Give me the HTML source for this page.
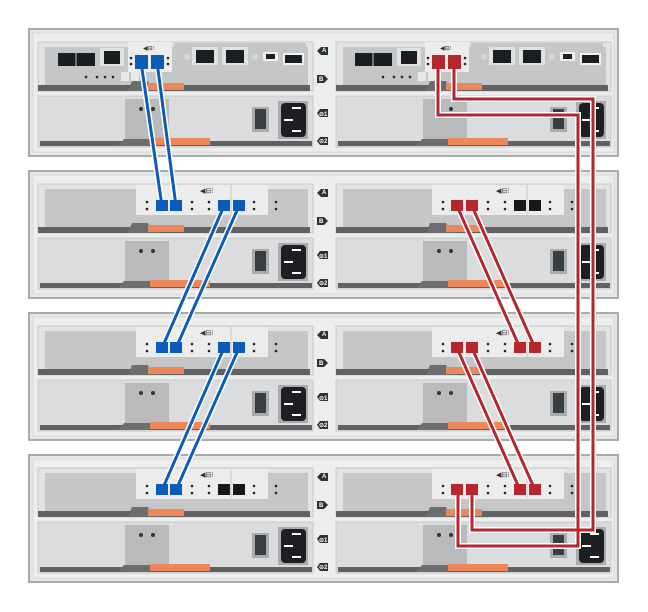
<!DOCTYPE html>
<html><head><meta charset="utf-8"><style>
html,body{margin:0;padding:0;background:#fff}
svg{display:block}
text{font-family:"Liberation Sans",sans-serif}
</style></head><body>
<svg width="648" height="612" viewBox="0 0 648 612" xmlns="http://www.w3.org/2000/svg">
<defs>
<g id="half">
  <!-- top module -->
  <rect x="38" y="13" width="275" height="49" fill="#e2e4e4" stroke="#c6c8c9"/>
  <rect x="45" y="18" width="263" height="38" fill="#c4c6c7"/>
  <rect x="38" y="56" width="272" height="6" fill="#5f6163"/>
  <path d="M128 62 L132 52 L148 52 L150 56 L160 56 L160 62 Z" fill="#6b6d6f"/>
  <rect x="148" y="54" width="36" height="7" fill="#ed8659"/>
  <!-- PSU -->
  <rect x="38" y="67" width="275" height="51" fill="#dadcdd" stroke="#c6c8c9"/>
  <rect x="125" y="70" width="44" height="42" fill="#b8babb"/>
  <circle cx="141" cy="80" r="2" fill="#333"/><circle cx="153" cy="80" r="2" fill="#333"/>
  <rect x="252" y="78" width="17" height="25" fill="#a9abac"/>
  <rect x="255" y="80" width="11" height="20" fill="#3b3e41"/>
  <rect x="278" y="72" width="30" height="38" fill="#a9abac"/>
  <rect x="281" y="74" width="25" height="34" rx="4" fill="#1d1f22"/>
  <rect x="292" y="78" width="9" height="2" fill="#fff"/><rect x="284" y="90" width="9" height="2" fill="#fff"/><rect x="292" y="101" width="9" height="2" fill="#fff"/>
  <rect x="40" y="112" width="272" height="5" fill="#5f6163"/>
  <path d="M118 117 L124 110 L150 110 L150 117 Z" fill="#6b6d6f"/>
  <rect x="150" y="109" width="60" height="7" fill="#ed8659"/>
</g>
<g id="shelf">
  <rect x="29" y="0" width="589" height="127" fill="#e6e8e8" stroke="#a8abad" stroke-width="2"/>
  <rect x="33" y="4" width="581" height="119" fill="#eceeee" stroke="#d6d8d9"/>
  <use href="#half"/>
  <use href="#half" transform="translate(298,0)"/>
  <path d="M317 22 l4 -4 h7 v8 h-7 z" fill="#2e3134"/>
  <path d="M317 46 h7 l4 4 l-4 4 h-7 z" fill="#2e3134"/>
  <path d="M317 84 l3 -4 h8 v8 h-8 z" fill="#2e3134"/>
  <path d="M317 112 l3 -4 h8 v8 h-8 z" fill="#2e3134"/>
</g>
<g id="iom">
  <rect x="136" y="14" width="132" height="30" fill="#ececec"/>
  <line x1="231" y1="14" x2="231" y2="44" stroke="#c8c8c8"/>
  <g fill="#222">
   <circle cx="147" cy="31" r="1.3"/><circle cx="147" cy="38" r="1.3"/>
   <circle cx="192" cy="31" r="1.3"/><circle cx="192" cy="38" r="1.3"/>
   <circle cx="209" cy="31" r="1.3"/><circle cx="209" cy="38" r="1.3"/>
   <circle cx="254" cy="31" r="1.3"/><circle cx="254" cy="38" r="1.3"/>
   <circle cx="276" cy="31" r="1.3"/><circle cx="276" cy="38" r="1.3"/>
  </g>
  <text x="200" y="22" font-size="7" fill="#333">◀⊟⁝</text>
</g>
</defs>

<use href="#shelf" transform="translate(0,29)"/>
<use href="#shelf" transform="translate(0,171)"/>
<use href="#shelf" transform="translate(0,313)"/>
<use href="#shelf" transform="translate(0,455)"/>

<!-- badge labels -->
<g font-size="6" font-weight="bold" fill="#fff">
<text x="322" y="52">A</text><text x="319" y="81">B</text><text x="319" y="116">⊝1</text><text x="319" y="143">⊝2</text>
<text x="322" y="194">A</text><text x="319" y="223">B</text><text x="319" y="258">⊝1</text><text x="319" y="285">⊝2</text>
<text x="322" y="336">A</text><text x="319" y="365">B</text><text x="319" y="400">⊝1</text><text x="319" y="427">⊝2</text>
<text x="322" y="478">A</text><text x="319" y="507">B</text><text x="319" y="542">⊝1</text><text x="319" y="569">⊝2</text>
</g>

<!-- top controllers -->
<g id="ctrl">
  <rect x="58" y="53" width="37" height="13" fill="#1b1e21"/><line x1="76" y1="53" x2="76" y2="66" stroke="#c4c6c7"/>
  <rect x="100" y="48" width="24" height="18" fill="#e0e2e2"/><rect x="104" y="51" width="16" height="13" fill="#1b1e21"/>
  <rect x="128" y="42" width="44" height="30" fill="#ececec"/>
  <text x="143" y="50" font-size="6" fill="#333">◀⊟⁝</text>
  <rect x="174" y="43" width="132" height="37" fill="#c4c6c7"/>
  <rect x="192" y="47" width="26" height="18" fill="#e0e2e2"/><rect x="196" y="50" width="18" height="13" fill="#1b1e21"/>
  <rect x="222" y="47" width="26" height="18" fill="#e0e2e2"/><rect x="226" y="50" width="18" height="13" fill="#1b1e21"/>
  <circle cx="187" cy="57" r="3" fill="#d6d8d8"/><circle cx="255" cy="57" r="3" fill="#d6d8d8"/>
  <rect x="263" y="52" width="15" height="9" rx="2" fill="#f2f2f2"/><rect x="266" y="54" width="9" height="5" fill="#1b1e21"/>
  <rect x="283" y="53" width="21" height="12" fill="#f2f2f2"/><rect x="285" y="55" width="17" height="8" fill="#1b1e21"/>
  <g fill="#222"><circle cx="86" cy="77" r="1.3"/><circle cx="97" cy="77" r="1.3"/><circle cx="105" cy="77" r="1.3"/><circle cx="113" cy="77" r="1.3"/>
  <circle cx="131" cy="58" r="1.3"/><circle cx="131" cy="64" r="1.3"/><circle cx="168" cy="58" r="1.3"/><circle cx="168" cy="64" r="1.3"/></g>
  <rect x="121" y="72" width="8" height="9" fill="#e8e8e8"/><rect x="131" y="72" width="8" height="9" fill="#e8e8e8"/>
</g>
<use href="#ctrl" transform="translate(297,0)"/>

<!-- IOMs -->
<use href="#iom" transform="translate(0,171)"/><use href="#iom" transform="translate(296,171)"/>
<use href="#iom" transform="translate(0,313)"/><use href="#iom" transform="translate(296,313)"/>
<use href="#iom" transform="translate(0,455)"/><use href="#iom" transform="translate(296,455)"/>

<!-- empty ports -->
<g fill="#15181b">
<rect x="218" y="484" width="12" height="11"/><rect x="233" y="484" width="12" height="11"/>
<rect x="514" y="200" width="12" height="11"/><rect x="529" y="200" width="12" height="11"/>
</g>

<!-- blue cables -->
<g fill="none" stroke-linecap="butt">
<g stroke="#fff" stroke-width="6">
<path d="M141 62 L162 206 M157 62 L176 206 M224 206 L162 348 M239 206 L176 348 M224 348 L162 490 M239 348 L176 490"/>
</g>
<g stroke="#0b5cb8" stroke-width="3">
<path d="M141 62 L162 206 M157 62 L176 206 M224 206 L162 348 M239 206 L176 348 M224 348 L162 490 M239 348 L176 490"/>
</g>
<!-- red cables -->
<g stroke="#fff" stroke-width="6" stroke-linejoin="miter">
<path d="M438 62 V115 H578 V546 H458 V490 M454 62 V99 H593 V530 H472 V490"/>
<path d="M457 206 L520 348 M472 206 L535 348 M457 348 L520 490 M472 348 L535 490"/>
</g>
<g stroke="#b5262e" stroke-width="3">
<path d="M438 62 V115 H578 V546 H458 V490 M454 62 V99 H593 V530 H472 V490"/>
<path d="M457 206 L520 348 M472 206 L535 348 M457 348 L520 490 M472 348 L535 490"/>
</g>
</g>

<!-- blue ports -->
<g fill="#0b5cb8">
<rect x="135" y="55" width="13" height="14"/><rect x="151" y="55" width="13" height="14"/>
<rect x="156" y="200" width="12" height="11"/><rect x="170" y="200" width="12" height="11"/>
<rect x="218" y="200" width="12" height="11"/><rect x="233" y="200" width="12" height="11"/>
<rect x="156" y="342" width="12" height="11"/><rect x="170" y="342" width="12" height="11"/>
<rect x="218" y="342" width="12" height="11"/><rect x="233" y="342" width="12" height="11"/>
<rect x="156" y="484" width="12" height="11"/><rect x="170" y="484" width="12" height="11"/>
</g>
<g fill="#b5262e">
<rect x="432" y="55" width="13" height="14"/><rect x="448" y="55" width="13" height="14"/>
<rect x="451" y="200" width="12" height="11"/><rect x="466" y="200" width="12" height="11"/>
<rect x="451" y="342" width="12" height="11"/><rect x="466" y="342" width="12" height="11"/>
<rect x="514" y="342" width="12" height="11"/><rect x="529" y="342" width="12" height="11"/>
<rect x="451" y="484" width="12" height="11"/><rect x="466" y="484" width="12" height="11"/>
<rect x="514" y="484" width="12" height="11"/><rect x="529" y="484" width="12" height="11"/>
</g>
</svg>
</body></html>
